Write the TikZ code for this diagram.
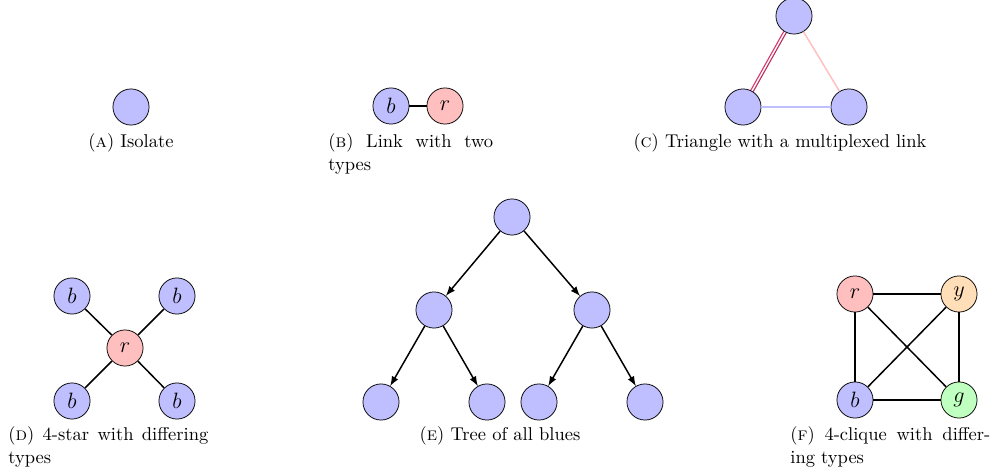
\documentclass[tikz,border=0pt]{standalone}
\usepackage{tikz}
\definecolor{lightblue}{rgb}{0.75,0.75,1}
\definecolor{lightred}{rgb}{1,0.75,0.75}
\definecolor{lightgreen}{rgb}{0.75,1,0.75}
\definecolor{lightorange}{rgb}{1,0.87,0.72}
\definecolor{multired}{rgb}{0.85,0.22,0.42}

\begin{document}
\begin{tikzpicture}[x=0.54pt,y=-0.54pt,
    vert/.style={shape=circle,draw=black,minimum size=19.5pt,inner sep=0pt,font=\fontsize{13}{15}\selectfont},
    cap/.style={anchor=base west,inner sep=0pt,text width=#1,align=justify},
    ]
    \useasboundingbox (0,0) rectangle (995,474);

    % (a) isolate
    \node[vert,fill=lightblue](a1) at (131,107) {};
    \node[anchor=base,inner sep=0pt](capa) at (131,148) {(\textsc{a}) Isolate};

    % (b) link with two types
    \node[vert,fill=lightblue](b1) at (391,106) {$b$};
    \node[vert,fill=lightred](b2) at (445,106) {$r$};
    \draw[thick] (b1) -- (b2);
    \node[cap=89pt](capb) at (328,148) {(\textsc{b}) Link with two\linebreak types};

    % (c) triangle with a multiplexed link
    \node[vert,fill=lightblue](c1) at (794,16) {};
    \node[vert,fill=lightblue](c2) at (743,107) {};
    \node[vert,fill=lightblue](c3) at (849,107) {};
    \draw[thick,lightblue] (c2) -- (c3);
    \draw[thick,lightred] (c1) -- (c3);
    \draw[semithick,multired,transform canvas={shift={(-0.65pt,0.37pt)}}] (c1) -- (c2);
    \draw[semithick,multired!85!black,transform canvas={shift={(0.65pt,-0.37pt)}}] (c1) -- (c2);
    \node[anchor=base,inner sep=0pt](capc) at (780,148) {(\textsc{c}) Triangle with a multiplexed link};

    % (d) 4-star with differing types
    \node[vert,fill=lightred](d0) at (125,348) {$r$};
    \node[vert,fill=lightblue](d1) at (72,296) {$b$};
    \node[vert,fill=lightblue](d2) at (177,296) {$b$};
    \node[vert,fill=lightblue](d3) at (72,401) {$b$};
    \node[vert,fill=lightblue](d4) at (177,401) {$b$};
    \foreach \i in {1,...,4}
        \draw[thick] (d0) -- (d\i);
    \node[cap=108pt](capd) at (8,441) {(\textsc{d}) 4-star with differing\linebreak types};

    % (e) tree of all blues
    \node[vert,fill=lightblue](e0) at (512,217) {};
    \node[vert,fill=lightblue](e1) at (434,310) {};
    \node[vert,fill=lightblue](e2) at (592,310) {};
    \node[vert,fill=lightblue](e3) at (381,402) {};
    \node[vert,fill=lightblue](e4) at (487,402) {};
    \node[vert,fill=lightblue](e5) at (539,402) {};
    \node[vert,fill=lightblue](e6) at (645,402) {};
    \draw[thick,-latex] (e0) -- (e1);
    \draw[thick,-latex] (e0) -- (e2);
    \draw[thick,-latex] (e1) -- (e3);
    \draw[thick,-latex] (e1) -- (e4);
    \draw[thick,-latex] (e2) -- (e5);
    \draw[thick,-latex] (e2) -- (e6);
    \node[anchor=base,inner sep=0pt](cape) at (500,441) {(\textsc{e}) Tree of all blues};

    % (f) 4-clique with differing types
    \node[vert,fill=lightred](f1) at (855,294) {$r$};
    \node[vert,fill=lightorange](f2) at (959,294) {$y$};
    \node[vert,fill=lightblue](f3) at (855,400) {$b$};
    \node[vert,fill=lightgreen](f4) at (959,400) {$g$};
    \draw[thick] (f1) -- (f2) -- (f4) -- (f3) -- (f1);
    \draw[thick] (f1) -- (f4);
    \draw[thick] (f2) -- (f3);
    \node[cap=108pt](capf) at (790,441) {(\textsc{f}) 4-clique with differ-\linebreak ing types};

\end{tikzpicture}
\end{document}
